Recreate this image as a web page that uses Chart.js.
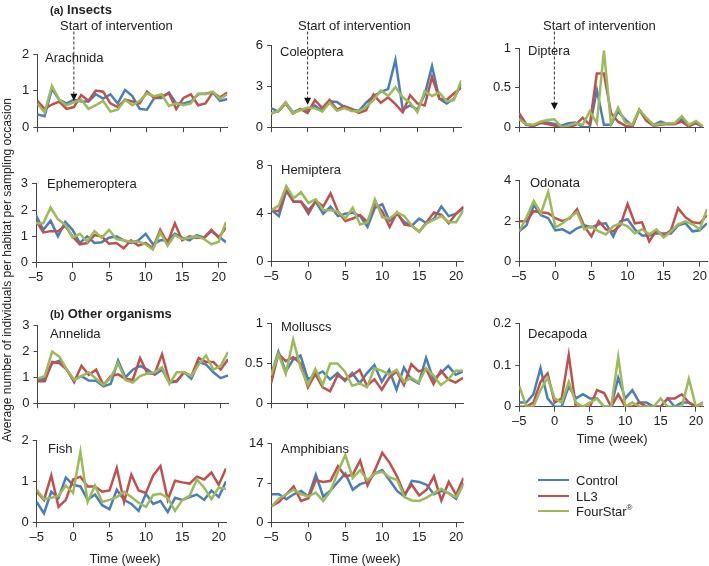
<!DOCTYPE html>
<html>
<head>
<meta charset="utf-8">
<script src="https://cdn.jsdelivr.net/npm/chart.js@4.4.1/dist/chart.umd.min.js"></script>
<style>
  body { margin: 0; background: #fff; width: 709px; height: 566px; position: relative; overflow: hidden;
         font-family: "Liberation Sans", Arial, sans-serif; color: #222; }
  canvas { position: absolute; }
  .t { position: absolute; font-size: 13px; line-height: 1; white-space: nowrap; transform: translateY(-50%); }
  .c { transform: translate(-50%, -50%); }
  .hd { font-weight: bold; }
  .hd small { font-size: 11px; }
  .ytitle { position: absolute; left: 7px; top: 270px; font-size: 12px; white-space: nowrap;
            transform: translate(-50%, -50%) rotate(-90deg); }
  .sw { position: absolute; left: 538px; width: 31px; height: 2px; }
</style>
</head>
<body>

<script>
const weeks = [-5, -4, -3, -2, -1, 0, 1, 2, 3, 4, 5, 6, 7, 8, 9, 10, 11, 12, 13, 14, 15, 16, 17, 18, 19, 20, 21];
const weekTicks = [-5, 0, 5, 10, 15, 20];

// (a) insects
const arachnidaTicks = [0, 1, 2];
const arachnidaControl = [0.35, 0.3, 1.05, 0.75, 0.65, 0.75, 0.7, 0.7, 0.9, 0.78, 0.9, 0.65, 1.02, 0.85, 0.5, 0.48, 0.8, 0.8, 0.95, 0.65, 0.65, 0.7, 0.9, 0.92, 0.95, 0.72, 0.77];
const arachnidaLL3 = [0.72, 0.5, 0.62, 0.7, 0.5, 0.55, 0.88, 0.72, 1.0, 0.97, 0.65, 0.55, 0.75, 0.7, 0.65, 0.97, 0.8, 0.85, 0.92, 0.5, 0.8, 0.9, 0.6, 0.65, 0.95, 0.82, 0.95];
const arachnidaFourStar = [0.65, 0.4, 1.13, 0.75, 0.6, 0.68, 0.75, 0.5, 0.6, 0.72, 0.43, 0.48, 0.75, 0.6, 0.72, 0.92, 0.85, 0.9, 0.58, 0.65, 0.6, 0.65, 0.92, 0.9, 0.97, 0.78, 0.9];

const coleopteraTicks = [0, 3, 6];
const coleopteraControl = [1.4, 1.15, 1.8, 1.1, 1.3, 1.3, 1.6, 1.2, 1.9, 1.85, 1.5, 1.3, 1.2, 1.8, 2.3, 2.6, 2.8, 4.95, 1.3, 1.6, 1.3, 2.4, 4.5, 2.1, 1.75, 2.1, 3.2];
const coleopteraLL3 = [1.0, 1.2, 1.75, 1.0, 1.35, 1.05, 2.0, 1.4, 2.0, 1.3, 1.55, 1.35, 1.05, 1.25, 2.4, 1.8, 2.2, 1.7, 1.1, 2.35, 1.75, 1.6, 3.7, 2.1, 2.0, 2.5, 2.9];
const coleopteraFourStar = [1.0, 1.2, 1.85, 1.05, 1.25, 1.45, 1.4, 1.15, 1.8, 1.2, 1.4, 1.2, 1.15, 1.5, 2.0, 2.7, 2.3, 2.95, 2.2, 1.8, 1.1, 2.65, 2.3, 2.55, 1.9, 2.0, 3.45];

const dipteraTicks = [0, 0.5, 1];
const dipteraControl = [0.12, 0.03, 0.02, 0.05, 0.06, 0.04, 0.02, 0.05, 0.06, 0.0, 0.0, 0.47, 0.03, 0.03, 0.2, 0.1, 0.02, 0.22, 0.1, 0.03, 0.07, 0.04, 0.04, 0.1, 0.02, 0.05, 0.0];
const dipteraLL3 = [0.18, 0.04, 0.01, 0.06, 0.04, 0.02, 0.0, 0.0, 0.03, 0.12, 0.03, 0.68, 0.68, 0.18, 0.07, 0.02, 0.0, 0.22, 0.08, 0.02, 0.03, 0.04, 0.04, 0.07, 0.01, 0.06, 0.0];
const dipteraFourStar = [0.1, 0.04, 0.03, 0.07, 0.09, 0.1, 0.0, 0.02, 0.05, 0.03, 0.2, 0.05, 0.97, 0.04, 0.25, 0.06, 0.03, 0.22, 0.12, 0.03, 0.04, 0.05, 0.05, 0.14, 0.03, 0.08, 0.01];

const ephemeropteraTicks = [0, 1, 2, 3];
const ephemeropteraControl = [1.8, 1.25, 1.6, 1.0, 1.55, 1.25, 0.75, 1.0, 0.75, 0.78, 0.95, 1.0, 0.85, 0.75, 0.85, 1.1, 0.7, 0.85, 0.85, 1.1, 0.95, 0.85, 1.05, 0.95, 1.2, 1.0, 0.78];
const ephemeropteraLL3 = [1.6, 1.15, 1.2, 1.2, 1.4, 1.0, 0.7, 0.75, 1.05, 1.0, 0.72, 0.75, 0.55, 0.85, 0.65, 0.75, 0.55, 1.25, 0.75, 1.5, 0.85, 1.0, 0.95, 0.95, 1.25, 0.95, 1.35];
const ephemeropteraFourStar = [1.5, 1.5, 2.1, 1.65, 1.45, 0.95, 1.1, 0.8, 1.2, 0.95, 1.25, 0.9, 0.85, 0.8, 0.8, 0.7, 0.5, 1.15, 0.65, 1.05, 0.9, 0.95, 1.0, 0.9, 0.7, 0.8, 1.55];

const hemipteraTicks = [0, 4, 8];
const hemipteraControl = [4.3, 3.8, 5.9, 5.0, 5.0, 4.3, 5.0, 4.0, 4.6, 3.8, 4.0, 4.1, 3.8, 2.9, 4.5, 4.8, 3.4, 4.0, 3.3, 3.0, 3.6, 3.2, 3.6, 4.6, 3.8, 4.0, 4.5];
const hemipteraLL3 = [4.3, 4.2, 6.1, 5.0, 5.0, 4.0, 5.1, 4.6, 5.7, 4.2, 3.4, 3.6, 3.9, 3.3, 4.9, 4.2, 2.9, 4.1, 3.1, 3.0, 2.5, 3.3, 4.1, 3.9, 3.2, 4.0, 4.6];
const hemipteraFourStar = [4.3, 4.7, 6.3, 5.3, 5.8, 4.9, 5.2, 4.3, 4.3, 4.2, 3.6, 4.5, 3.1, 3.3, 5.2, 3.7, 3.6, 4.1, 3.8, 3.0, 2.5, 3.2, 3.5, 3.8, 3.3, 3.3, 4.3];

const odonataTicks = [0, 2, 4];
const odonataControl = [1.5, 1.8, 2.8, 2.3, 2.15, 1.55, 1.6, 1.4, 1.65, 1.8, 1.7, 1.85, 1.9, 1.25, 2.0, 2.1, 1.6, 1.3, 1.3, 1.4, 1.4, 1.4, 1.8, 1.9, 1.5, 1.55, 1.9];
const odonataLL3 = [2.0, 2.0, 2.5, 2.45, 2.4, 2.15, 2.0, 2.15, 2.6, 1.75, 1.25, 2.0, 1.6, 1.5, 1.8, 2.85, 1.9, 1.95, 1.0, 1.55, 1.3, 1.55, 2.65, 2.2, 1.95, 1.9, 2.3];
const odonataFourStar = [1.5, 2.2, 3.0, 2.4, 3.45, 1.7, 1.9, 2.2, 2.45, 1.6, 1.75, 1.5, 1.35, 1.75, 1.9, 1.75, 1.4, 1.6, 1.35, 1.6, 1.2, 1.5, 1.85, 2.0, 1.85, 1.6, 2.6];

// (b) other organisms
const annelidaTicks = [0, 1, 2, 3];
const annelidaControl = [0.9, 0.95, 1.55, 1.65, 1.3, 0.9, 1.05, 0.88, 0.87, 0.65, 0.75, 1.65, 1.0, 1.3, 1.45, 1.3, 1.1, 1.3, 0.8, 0.85, 1.2, 0.95, 1.6, 1.5, 1.2, 0.97, 1.08];
const annelidaLL3 = [0.85, 0.85, 1.6, 1.55, 1.3, 0.82, 1.45, 1.1, 1.3, 0.7, 1.05, 1.12, 0.95, 0.9, 1.75, 1.15, 1.15, 1.9, 0.85, 0.85, 1.2, 1.05, 1.75, 1.6, 1.6, 1.3, 1.7];
const annelidaFourStar = [0.95, 1.05, 2.0, 1.8, 1.3, 0.9, 1.05, 1.2, 0.95, 0.7, 1.0, 1.55, 0.9, 0.8, 1.05, 1.15, 1.2, 1.4, 0.75, 1.2, 1.2, 1.05, 1.5, 1.85, 1.3, 1.45, 1.98];

const molluscsTicks = [0, 0.5, 1];
const molluscsControl = [0.35, 0.65, 0.4, 0.55, 0.6, 0.3, 0.35, 0.4, 0.3, 0.38, 0.28, 0.38, 0.25, 0.38, 0.48, 0.27, 0.42, 0.17, 0.45, 0.3, 0.25, 0.57, 0.3, 0.38, 0.47, 0.36, 0.4];
const molluscsLL3 = [0.25, 0.62, 0.53, 0.58, 0.5, 0.2, 0.37, 0.2, 0.15, 0.35, 0.3, 0.35, 0.42, 0.22, 0.3, 0.17, 0.32, 0.4, 0.23, 0.49, 0.4, 0.43, 0.24, 0.41, 0.3, 0.26, 0.32];
const molluscsFourStar = [0.35, 0.62, 0.37, 0.8, 0.45, 0.23, 0.43, 0.23, 0.5, 0.5, 0.4, 0.22, 0.25, 0.2, 0.44, 0.41, 0.36, 0.42, 0.27, 0.32, 0.26, 0.44, 0.35, 0.23, 0.3, 0.41, 0.41];

const decapodaTicks = [0, 0.1, 0.2];
const decapodaControl = [0.01, 0.01, 0.03, 0.093, 0.02, 0.0, 0.0, 0.05, 0.02, 0.03, 0.02, 0.02, 0.0, 0.0, 0.07, 0.02, 0.04, 0.01, 0.01, 0.0, 0.0, 0.02, 0.0, 0.01, 0.01, 0.0, 0.01];
const decapodaLL3 = [0.0, 0.0, 0.01, 0.06, 0.08, 0.01, 0.02, 0.125, 0.0, 0.0, 0.0, 0.04, 0.033, 0.0, 0.03, 0.0, 0.0, 0.01, 0.0, 0.0, 0.0, 0.02, 0.02, 0.03, 0.01, 0.0, 0.0];
const decapodaFourStar = [0.05, 0.0, 0.0, 0.04, 0.07, 0.02, 0.01, 0.06, 0.01, 0.0, 0.01, 0.02, 0.0, 0.0, 0.12, 0.0, 0.01, 0.0, 0.0, 0.0, 0.02, 0.0, 0.0, 0.0, 0.067, 0.0, 0.01];

const fishTicks = [0, 1, 2];
const fishControl = [0.5, 0.22, 0.75, 0.6, 1.1, 0.92, 0.88, 0.55, 0.68, 0.42, 0.32, 0.8, 0.55, 0.45, 0.28, 0.7, 0.45, 0.52, 0.25, 0.6, 0.55, 0.62, 0.68, 0.55, 0.78, 0.62, 1.0];
const fishLL3 = [0.75, 0.55, 1.15, 0.38, 0.55, 1.05, 1.12, 0.88, 0.88, 0.75, 0.78, 1.33, 0.5, 1.17, 0.78, 0.72, 1.15, 1.38, 0.55, 1.02, 0.98, 0.95, 1.12, 1.05, 1.22, 0.92, 1.32];
const fishFourStar = [0.8, 0.57, 0.6, 0.65, 0.9, 0.72, 1.73, 0.5, 0.9, 0.5, 0.55, 0.62, 0.75, 0.62, 0.48, 0.38, 0.67, 0.7, 0.6, 0.28, 0.55, 0.65, 1.05, 0.85, 0.57, 0.85, 0.82];

const amphibiansTicks = [0, 7, 14];
const amphibiansControl = [5.0, 5.0, 4.1, 5.0, 5.6, 4.6, 8.5, 4.6, 5.7, 7.2, 8.7, 5.8, 6.8, 7.2, 8.7, 9.3, 7.5, 5.6, 4.6, 7.4, 7.2, 6.7, 5.0, 5.6, 5.2, 4.2, 7.0];
const amphibiansLL3 = [2.9, 3.6, 5.0, 6.4, 3.8, 4.3, 7.5, 7.2, 7.4, 10.0, 8.2, 8.5, 11.0, 6.6, 9.3, 12.4, 10.6, 8.2, 5.0, 6.7, 4.8, 5.8, 8.2, 3.9, 7.2, 4.9, 7.9];
const amphibiansFourStar = [2.8, 4.2, 5.0, 5.8, 5.0, 4.6, 5.3, 3.8, 5.6, 9.0, 12.0, 7.9, 9.3, 7.5, 8.7, 9.0, 8.0, 7.6, 4.5, 3.9, 3.8, 4.4, 5.2, 6.0, 5.1, 4.5, 6.7];

const seriesNames = ['Control', 'LL3', 'FourStar®'];
const seriesColors = ['#4a7ebb', '#c0504d', '#9bbb59'];

// plot area of every panel in page pixels (week -5 .. 21, y 0 .. top tick)
const panels = [
  { name: 'Arachnida', series: [arachnidaControl, arachnidaLL3, arachnidaFourStar], yTicks: arachnidaTicks,
    L: 37.3, R: 227.4, T: 54, B: 130.3, labels: false, top: 14, arrow: 0.72, title: [45, 57] },
  { name: 'Coleoptera', series: [coleopteraControl, coleopteraLL3, coleopteraFourStar], yTicks: coleopteraTicks,
    L: 271, R: 461.3, T: 45.7, B: 130.3, labels: false, top: 14, arrow: 1.65, title: [280, 51] },
  { name: 'Diptera', series: [dipteraControl, dipteraLL3, dipteraFourStar], yTicks: dipteraTicks,
    L: 519, R: 703, T: 48.3, B: 130.3, labels: false, top: 14, arrow: 0.22, title: [528, 50] },
  { name: 'Ephemeroptera', series: [ephemeropteraControl, ephemeropteraLL3, ephemeropteraFourStar], yTicks: ephemeropteraTicks,
    L: 36, R: 226, T: 182.7, B: 262.7, labels: true, title: [47, 183] },
  { name: 'Hemiptera', series: [hemipteraControl, hemipteraLL3, hemipteraFourStar], yTicks: hemipteraTicks,
    L: 271.5, R: 463.5, T: 164, B: 261.7, labels: true, title: [281, 169] },
  { name: 'Odonata', series: [odonataControl, odonataLL3, odonataFourStar], yTicks: odonataTicks,
    L: 519.3, R: 707, T: 179.3, B: 261.7, labels: true, title: [530, 182] },
  { name: 'Annelida', series: [annelidaControl, annelidaLL3, annelidaFourStar], yTicks: annelidaTicks,
    L: 37.5, R: 228, T: 324.3, B: 406.3, labels: false, title: [50, 333] },
  { name: 'Molluscs', series: [molluscsControl, molluscsLL3, molluscsFourStar], yTicks: molluscsTicks,
    L: 271, R: 463, T: 322.3, B: 406.7, labels: false, title: [281, 326] },
  { name: 'Decapoda', series: [decapodaControl, decapodaLL3, decapodaFourStar], yTicks: decapodaTicks,
    L: 519.3, R: 703, T: 322.3, B: 406.7, labels: true, title: [528, 333] },
  { name: 'Fish', series: [fishControl, fishLL3, fishFourStar], yTicks: fishTicks,
    L: 36.7, R: 226, T: 439.3, B: 522.3, labels: true, title: [48, 448] },
  { name: 'Amphibians', series: [amphibiansControl, amphibiansLL3, amphibiansFourStar], yTicks: amphibiansTicks,
    L: 271.5, R: 463.5, T: 442.7, B: 522.3, labels: true, title: [281, 448] }
];

const arrowTop = 31.5; // page y where the dashed arrows start

const interventionArrow = {
  id: 'interventionArrow',
  afterDatasetsDraw(chart, args, opts) {
    if (opts.tip === undefined) return;
    const { ctx } = chart;
    const x = chart.scales.x.getPixelForValue(0);
    const y1 = chart.scales.y.getPixelForValue(opts.tip);
    ctx.save();
    ctx.strokeStyle = '#333';
    ctx.lineWidth = 1;
    ctx.setLineDash([3, 2]);
    ctx.beginPath();
    ctx.moveTo(x, opts.startY);
    ctx.lineTo(x, y1 - 6);
    ctx.stroke();
    ctx.setLineDash([]);
    ctx.fillStyle = '#111';
    ctx.beginPath();
    ctx.moveTo(x - 3.5, y1 - 7);
    ctx.lineTo(x + 3.5, y1 - 7);
    ctx.lineTo(x, y1);
    ctx.closePath();
    ctx.fill();
    ctx.restore();
  }
};

function addText(html, left, top, cls) {
  const d = document.createElement('div');
  d.className = 't ' + (cls || '');
  d.innerHTML = html;
  d.style.left = left + 'px';
  d.style.top = top + 'px';
  document.body.appendChild(d);
}

const axisColor = '#444';
const tickFont = { family: '"Liberation Sans", Arial, sans-serif', size: 13 };

panels.forEach(p => {
  const cLeft = Math.floor(p.L - 45);
  const cTop = p.top !== undefined ? p.top : Math.floor(p.T - 10);
  const cRight = Math.ceil(p.R + 8);
  const cBottom = Math.ceil(p.B + (p.labels ? 30 : 8));
  const cv = document.createElement('canvas');
  cv.style.left = cLeft + 'px';
  cv.style.top = cTop + 'px';
  cv.style.width = (cRight - cLeft) + 'px';
  cv.style.height = (cBottom - cTop) + 'px';
  cv.width = cRight - cLeft;
  cv.height = cBottom - cTop;
  document.body.appendChild(cv);

  const datasets = p.series.map((vals, i) => ({
    label: seriesNames[i],
    data: weeks.map((w, j) => ({ x: w, y: vals[j] })),
    borderColor: seriesColors[i],
    backgroundColor: seriesColors[i],
    borderWidth: 2.5,
    pointRadius: 0,
    tension: 0,
    order: 2 - i
  }));

  new Chart(cv, {
    type: 'line',
    data: { datasets },
    plugins: [interventionArrow],
    options: {
      responsive: false,
      animation: false,
      events: [],
      layout: { padding: { left: 0, top: p.T - cTop, right: cRight - p.R, bottom: 0 } },
      plugins: {
        legend: { display: false },
        tooltip: { enabled: false },
        interventionArrow: { tip: p.arrow, startY: arrowTop - cTop }
      },
      scales: {
        x: {
          type: 'linear', min: -5, max: 21,
          afterBuildTicks: s => { s.ticks = weekTicks.map(v => ({ value: v })); },
          afterFit: s => { s.height = cBottom - p.B; },
          grid: { drawOnChartArea: false, tickLength: 5, color: axisColor },
          border: { color: axisColor },
          ticks: { display: p.labels, font: tickFont, color: '#222', padding: 2, maxRotation: 0,
                   callback: v => (v < 0 ? '\u2013' + Math.abs(v) : String(v)) }
        },
        y: {
          min: 0, max: p.yTicks[p.yTicks.length - 1],
          afterBuildTicks: s => { s.ticks = p.yTicks.map(v => ({ value: v })); },
          afterFit: s => { s.width = p.L - cLeft; },
          grid: { drawOnChartArea: false, tickLength: 4, color: axisColor },
          border: { color: axisColor },
          ticks: { font: tickFont, color: '#222', padding: 4, callback: v => String(v) }
        }
      }
    }
  });

  addText(p.name, p.title[0], p.title[1]);
});

// headers and annotations
addText('<small>(a)</small> Insects', 50, 9, 'hd');
addText('<small>(b)</small> Other organisms', 50, 313, 'hd');
addText('Start of intervention', 60, 25);
addText('Start of intervention', 298, 25);
addText('Start of intervention', 543, 25);
addText('Time (week)', 612, 438, 'c');
addText('Time (week)', 125, 558, 'c');
addText('Time (week)', 365, 558, 'c');

const yt = document.createElement('div');
yt.className = 'ytitle';
yt.textContent = 'Average number of individuals per habitat per sampling occasion';
document.body.appendChild(yt);

// legend
const legendY = [480, 495.5, 511];
seriesNames.forEach((n, i) => {
  const sw = document.createElement('div');
  sw.className = 'sw';
  sw.style.top = (legendY[i] - 1) + 'px';
  sw.style.background = seriesColors[i];
  document.body.appendChild(sw);
  addText(n.replace('®', '<sup style="font-size:8px">®</sup>'), 576, legendY[i]);
});
</script>
</body>
</html>
